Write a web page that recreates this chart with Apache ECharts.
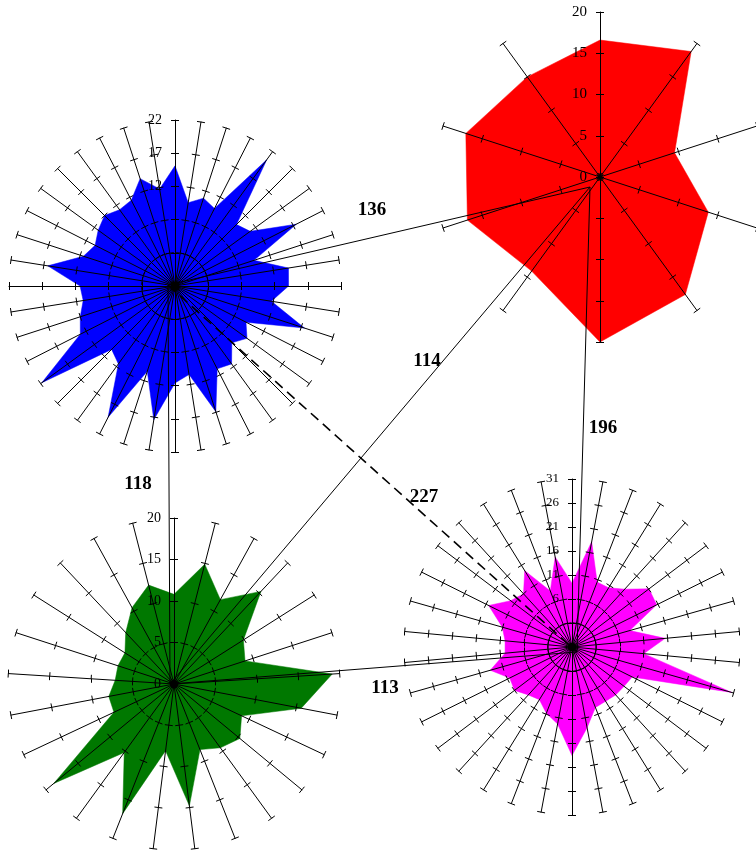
<!DOCTYPE html>
<html><head><meta charset="utf-8">
<script src="https://cdn.jsdelivr.net/npm/echarts@6/dist/echarts.min.js"></script>
<style>html,body{margin:0;padding:0;background:#fff}#c{width:756px;height:853px}</style>
</head><body><div id="c"></div>
<script>
// ---- data (first value on the top axis, then counter-clockwise)
const blueValues = [15.1,11.8,14.0,11.5,11.2,12.0,11.3,10.5,11.5,16.4,11.3,11.0,12.0,13.0,21.8,10.5,11.5,19.2,10.5,17.4,11.6,10.5,16.9,11.0,11.5,9.1,10.4,9.0,17.5,11.7,14.1,14.3,9.5,17.5,11.0,10.1,20.5,10.1,10.9,9.7];
const redValues = [16.6,15.0,17.1,16.9,14.1,20.0,17.6,13.8,9.5,18.8];
const greenValues = [10.8,12.3,10.5,8.5,7.0,7.1,7.1,8.0,8.0,18.8,10.2,16.8,8.1,14.8,8.5,9.5,10.3,9.0,15.6,19.1,9.0,9.9,15.3,11.6,14.9];
const pinkValues = [9.3,15.1,8.5,14.7,11.0,12.0,15.4,11.1,10.0,10.0,13.7,10.5,11.0,9.5,8.9,10.8,12.3,18.6,13.1,9.5,9.3,9.5,9.6,10.0,30.6,11.0,15.5,8.5,15.7,16.1,12.3,10.5,10.5,18.3];
const blueTicks = ['22','17','12'];
const redTicks = ['20','15','10','5','0'];
const greenTicks = ['20','15','10','5','0'];
const pinkTicks = ['31','26','21','16','11','6'];
const edgeValues = [136,114,196,118,227,113];
const edgePairs = [['blue','red'],['red','green'],['red','pink'],['blue','green'],['blue','pink'],['green','pink']];
const edgeDashed = [false,false,false,false,true,false];

// ---- layout / style
const charts = {
  blue:  {center:[175,286], radius:166, min:-3, max:22, split:5, color:'#0000ff', values:blueValues,  ticks:blueTicks,  fs:14},
  red:   {center:[600,177], radius:165, min:0,  max:20, split:4, color:'#ff0000', values:redValues,   ticks:redTicks,   fs:15},
  green: {center:[174,684], radius:166, min:0,  max:20, split:4, color:'#007800', values:greenValues, ticks:greenTicks, fs:14},
  pink:  {center:[572,647], radius:168, min:-4, max:31, split:7, color:'#ff00ff', values:pinkValues,  ticks:pinkTicks,  fs:13}
};
const nodePos = {blue:[168,285], red:[590,187], green:[170,684], pink:[577,652]};
const edgeLabelPos = [[372,210],[427,361],[603,428],[138,484],[424,497],[385,688]];

const radars = [], series = [];
Object.keys(charts).forEach(function (k) {
  const c = charts[k];
  const n = c.values.length;
  const indA = [], indB = [];
  for (let i = 0; i < n; i++) {
    const o = {name:'', min:c.min, max:c.max};
    if (i === 0) o.axisLabel = {show:true};
    indA.push(o);
    indB.push({name:'', min:c.min, max:c.max});
  }
  const idx = radars.length;
  radars.push({
    center:c.center, radius:c.radius, startAngle:90, splitNumber:c.split, shape:'polygon',
    indicator:indA, axisName:{show:false}, z:3,
    axisLine:{show:true, lineStyle:{color:'#000', width:1}},
    axisTick:{show:true, length:4, lineStyle:{color:'#000', width:1}},
    axisLabel:{show:false, color:'#000', fontFamily:'Liberation Serif', fontSize:c.fs, margin:13,
      formatter:function (v) { const s = String(Math.round(v)); return c.ticks.indexOf(s) >= 0 ? s : ''; }},
    splitLine:{show:false}, splitArea:{show:false}
  });
  radars.push({
    center:c.center, radius:c.radius, startAngle:90, splitNumber:c.split, shape:'polygon',
    indicator:indB, axisName:{show:false}, z:3,
    axisLine:{show:false},
    axisTick:{show:true, length:-4, lineStyle:{color:'#000', width:1}},
    axisLabel:{show:false},
    splitLine:{show:false}, splitArea:{show:false}
  });
  series.push({
    type:'radar', radarIndex:idx, symbol:'none', z:2, silent:true,
    lineStyle:{width:0.5, color:c.color},
    areaStyle:{color:c.color, opacity:1},
    data:[{value:c.values}]
  });
});

series.push({
  type:'lines', coordinateSystem:'cartesian2d', xAxisIndex:0, yAxisIndex:0, z:5, silent:true,
  symbol:'none', polyline:false,
  lineStyle:{color:'#000', width:1, opacity:1},
  data: edgePairs.map(function (p, i) {
    return {coords:[nodePos[p[0]], nodePos[p[1]]],
      lineStyle:{color:'#000', opacity:1, width: edgeDashed[i] ? 1.6 : 1, type: edgeDashed[i] ? [10,6] : 'solid'}};
  })
});

const chart = echarts.init(document.getElementById('c'), null, {renderer:'canvas'});
chart.setOption({
  animation:false,
  backgroundColor:'#ffffff',
  grid:{left:0, right:0, top:0, bottom:0},
  xAxis:{type:'value', min:0, max:756, show:false},
  yAxis:{type:'value', min:0, max:853, inverse:true, show:false},
  radar: radars,
  series: series,
  graphic: edgeValues.map(function (v, i) {
    return {type:'text', x:edgeLabelPos[i][0], y:edgeLabelPos[i][1], z:10,
      style:{text:String(v), fill:'#000', font:'bold 19px "Liberation Serif"',
        align:'center', verticalAlign:'middle', textAlign:'center', textVerticalAlign:'middle'}};
  })
});
</script></body></html>
